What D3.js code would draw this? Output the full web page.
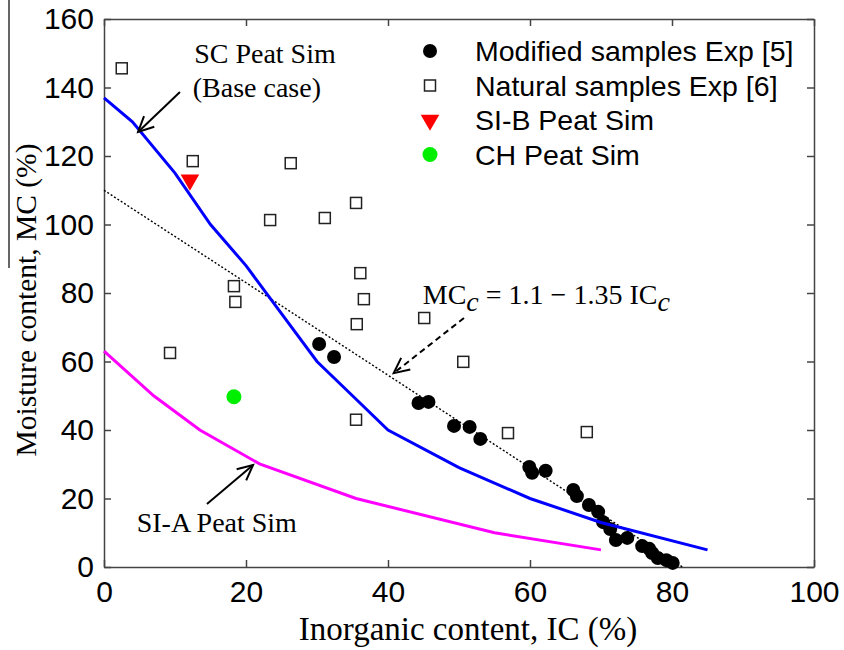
<!DOCTYPE html>
<html><head><meta charset="utf-8">
<script src="https://cdn.jsdelivr.net/npm/d3@7"></script>
<style>body{margin:0;background:#fff;} svg{display:block;}</style>
</head><body>
<svg id="chart" width="844" height="650"></svg>
<script>
// ---- data ----
const xTicks = [0, 20, 40, 60, 80, 100];
const yTicks = [0, 20, 40, 60, 80, 100, 120, 140, 160];

const modifiedIC = [30.3, 32.4, 44.3, 45.7, 49.3, 51.5, 53.0, 59.9, 60.3, 62.2, 66.1, 66.6, 68.3, 69.6, 70.3, 71.3, 72.1, 73.7, 75.8, 76.8, 77.2, 78.0, 79.2, 80.1];
const modifiedMC = [65.1, 61.3, 47.9, 48.2, 41.2, 40.9, 37.4, 29.2, 27.5, 28.1, 22.5, 20.7, 18.1, 16.1, 13.1, 11.1, 7.9, 8.5, 6.1, 5.3, 4.1, 2.6, 2.0, 1.2];

const naturalIC = [2.5, 12.5, 26.3, 35.5, 23.4, 31.1, 36.1, 18.3, 18.5, 36.6, 35.6, 45.1, 9.3, 50.6, 35.5, 56.9, 68.0];
const naturalMC = [145.6, 118.5, 117.9, 106.3, 101.3, 101.9, 85.8, 82.0, 77.4, 78.2, 70.9, 72.7, 62.5, 59.9, 43.0, 39.1, 39.4];

const sibIC = [12.1], sibMC = [113];
const chIC = [18.3], chMC = [49.7];

const scIC = [0, 4, 10, 15, 20, 25, 30, 35, 40, 50, 60, 70, 85];
const scMC = [137, 130, 115, 100, 88, 74, 60, 50, 40, 29, 20, 13, 5];

const siaIC = [0, 7, 13.5, 22, 35.5, 55, 70];
const siaMC = [63, 50, 40, 30, 20, 10, 5];

// fit MC_c = a - b IC_c (fractions)
const fitA = 1.1, fitB = 1.35;
const fitIC = [0, 100 * fitA / fitB];

const legendLabels = ["Modified samples Exp [5]", "Natural samples Exp [6]", "SI-B Peat Sim", "CH Peat Sim"];

// ---- layout ----
const svg = d3.select("#chart");
const L = 104, R = 814, T = 19, B = 567;
const x = d3.scaleLinear().domain([0, 100]).range([L, R]);
const y = d3.scaleLinear().domain([0, 160]).range([B, T]);
const axisColor = "#444";
const sans = "'Liberation Sans', Arial, sans-serif";
const serif = "'Liberation Serif', 'Times New Roman', serif";

// axes (ticks inside)
const gB = svg.append("g").attr("transform", `translate(0,${B})`)
  .call(d3.axisBottom(x).tickValues(xTicks).tickSizeInner(-7).tickSizeOuter(0).tickPadding(14));
const gL = svg.append("g").attr("transform", `translate(${L},0)`)
  .call(d3.axisLeft(y).tickValues(yTicks).tickSizeInner(-7).tickSizeOuter(0).tickPadding(10));
const gT = svg.append("g").attr("transform", `translate(0,${T})`)
  .call(d3.axisTop(x).tickValues(xTicks).tickSizeInner(-7).tickSizeOuter(0).tickFormat(""));
const gR = svg.append("g").attr("transform", `translate(${R},0)`)
  .call(d3.axisRight(y).tickValues(yTicks).tickSizeInner(-7).tickSizeOuter(0).tickFormat(""));
[gB, gL, gT, gR].forEach(g => {
  g.selectAll("path, line").attr("stroke", axisColor).attr("stroke-width", 1.5);
  g.selectAll("text").attr("font-family", sans).attr("font-size", 30).attr("fill", "#000");
});
gB.selectAll("text").attr("dy", "0.71em");

// experimental points
svg.append("g").selectAll("circle").data(modifiedIC).join("circle")
  .attr("cx", (d) => x(d)).attr("cy", (d, i) => y(modifiedMC[i])).attr("r", 7).attr("fill", "#000");

svg.append("g").selectAll("rect").data(naturalIC).join("rect")
  .attr("x", d => x(d) - 5.5).attr("y", (d, i) => y(naturalMC[i]) - 5.5)
  .attr("width", 11).attr("height", 11).attr("fill", "#fff").attr("stroke", "#222").attr("stroke-width", 1.5);

// simulation lines
const line = d3.line().x(d => x(d[0])).y(d => y(d[1]));
svg.append("path").datum(fitIC.map(v => [v, 100 * (fitA - fitB * v / 100)]))
  .attr("d", line).attr("fill", "none").attr("stroke", "#000").attr("stroke-width", 1.4).attr("stroke-dasharray", "2,2");
svg.append("path").datum(scIC.map((v, i) => [v, scMC[i]]))
  .attr("d", line).attr("fill", "none").attr("stroke", "#0000ff").attr("stroke-width", 3);
svg.append("path").datum(siaIC.map((v, i) => [v, siaMC[i]]))
  .attr("d", line).attr("fill", "none").attr("stroke", "#ff00ff").attr("stroke-width", 3);

const tri = d3.symbol().type(d3.symbolTriangle).size(150);
svg.append("g").selectAll("path").data(sibIC).join("path")
  .attr("d", tri).attr("transform", (d, i) => `translate(${x(d)},${y(sibMC[i])}) rotate(180)`).attr("fill", "#ff0000");
svg.append("g").selectAll("circle").data(chIC).join("circle")
  .attr("cx", d => x(d)).attr("cy", (d, i) => y(chMC[i])).attr("r", 7.5).attr("fill", "#00ee00");

// legend
const lg = svg.append("g");
const lx = 430, ly0 = 51, ldy = 34.5;
lg.append("circle").attr("cx", lx).attr("cy", ly0).attr("r", 7).attr("fill", "#000");
lg.append("rect").attr("x", lx - 5.5).attr("y", ly0 + ldy - 5.5).attr("width", 11).attr("height", 11)
  .attr("fill", "#fff").attr("stroke", "#222").attr("stroke-width", 1.5);
lg.append("path").attr("d", tri).attr("transform", `translate(${lx},${ly0 + 2 * ldy}) rotate(180)`).attr("fill", "#ff0000");
lg.append("circle").attr("cx", lx).attr("cy", ly0 + 3 * ldy).attr("r", 7.5).attr("fill", "#00ee00");
lg.selectAll("text").data(legendLabels).join("text")
  .attr("x", 475).attr("y", (d, i) => ly0 + i * ldy).attr("dy", "0.36em")
  .attr("font-family", sans).attr("font-size", 28.5).text(d => d);

// annotations
function arrow(x1, y1, x2, y2, dashed) {
  const px1 = x(x1), py1 = y(y1), px2 = x(x2), py2 = y(y2);
  const g = svg.append("g").attr("stroke", "#000").attr("stroke-width", 2).attr("fill", "none");
  g.append("line").attr("x1", px1).attr("y1", py1).attr("x2", px2).attr("y2", py2)
    .attr("stroke-dasharray", dashed ? "6,4" : null);
  const ang = Math.atan2(py1 - py2, px1 - px2), h = 17, a = 0.45;
  g.append("path").attr("d",
    `M${px2 + h * Math.cos(ang + a)},${py2 + h * Math.sin(ang + a)} L${px2},${py2} L${px2 + h * Math.cos(ang - a)},${py2 + h * Math.sin(ang - a)}`);
}
arrow(10.7, 138.7, 4.8, 127, false);
arrow(14.5, 18.4, 21, 29.8, false);
arrow(50.7, 72.7, 40.8, 56.6, true);

function note(tx, ty, str) {
  svg.append("text").attr("x", x(tx)).attr("y", y(ty)).attr("font-family", serif).attr("font-size", 28).text(str);
}
note(12.7, 147.2, "SC Peat Sim");
note(12.5, 137.2, "(Base case)");
note(4.6, 10.2, "SI-A Peat Sim");

const eq = svg.append("text").attr("x", x(44.9)).attr("y", y(76.8)).attr("font-family", serif).attr("font-size", 28);
eq.append("tspan").text("MC");
eq.append("tspan").attr("font-style", "italic").attr("dy", 7).attr("font-size", 28).text("c");
eq.append("tspan").attr("dy", -7).text(" = 1.1 \u2212 1.35 IC");
eq.append("tspan").attr("font-style", "italic").attr("dy", 7).attr("font-size", 28).text("c");

// axis titles
svg.append("text").attr("x", 468).attr("y", 640).attr("text-anchor", "middle")
  .attr("font-family", serif).attr("font-size", 33).text("Inorganic content, IC (%)");
svg.append("text").attr("transform", "translate(36,300) rotate(-90)").attr("text-anchor", "middle")
  .attr("font-family", serif).attr("font-size", 29.5).text("Moisture content, MC (%)");
svg.append("line").attr("x1", 9).attr("x2", 9).attr("y1", 0).attr("y2", 268)
  .attr("stroke", "#333").attr("stroke-width", 1.5);
</script>
</body></html>
